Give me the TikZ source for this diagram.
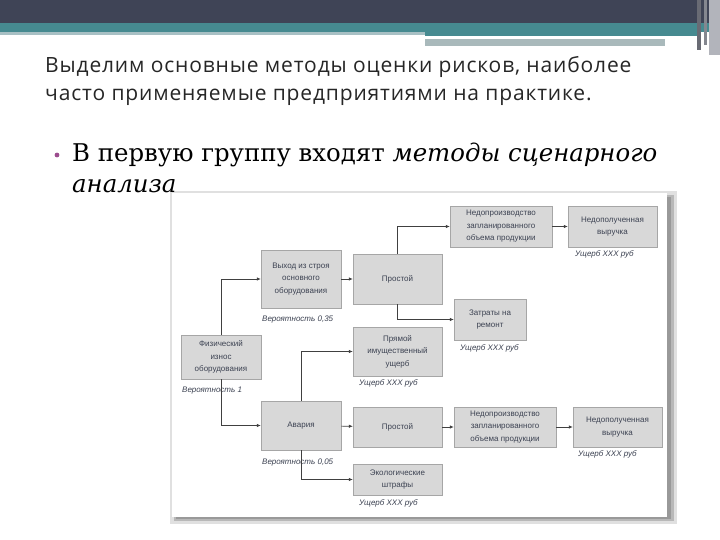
\documentclass[tikz,border=0pt]{standalone}
\usepackage{fontspec}
\setmainfont{DejaVu Serif}
\newfontfamily\titlefont[LetterSpace=4]{Open Sans}
\newfontfamily\diafont{Liberation Sans}
\usetikzlibrary{arrows.meta,shadows}
\definecolor{hdark}{HTML}{3F4456}
\definecolor{hteal}{HTML}{468A90}
\definecolor{hlight}{HTML}{A8C0C4}
\definecolor{hgray}{HTML}{A9B9BB}
\definecolor{boxfill}{HTML}{D8D8D8}
\definecolor{boxline}{HTML}{A6A6A6}
\definecolor{boxtext}{HTML}{3C4252}
\definecolor{dotpink}{HTML}{9C4C8E}
\tikzset{
  box/.style={draw=boxline,fill=boxfill,text=boxtext,align=center,inner sep=1pt,
    font=\diafont\fontsize{8}{12.5}\selectfont,
    drop shadow={shadow xshift=1pt,shadow yshift=-1pt,opacity=0.25}},
  lbl/.style={anchor=west,inner sep=0pt,text=boxtext,font=\diafont\itshape\fontsize{8}{10}\selectfont},
  arrow/.style={draw=black!75,line width=0.7pt,-{Latex[length=4pt,width=3.5pt]}}
}
\newcommand{\riskbox}[4][]{\node[box,#1] at (#2) (#3) {#4}}

\begin{document}
\begin{tikzpicture}[x=1pt,y=-1pt]
  \useasboundingbox (0,0) rectangle (720,540);
  % header
  \fill[hdark]  (0,0)      rectangle (720,23);
  \fill[hteal]  (0,23)     rectangle (720,31.7);
  \fill[hlight] (0,31.7)   rectangle (425,35);
  \fill[hteal]  (425,31.7) rectangle (697,36);
  \fill[hgray]  (425,39)   rectangle (665,46);
  \fill[black!35!hdark!70!white] (697,0) rectangle (701,50);
  \fill[black!20!hdark!60!white] (704,0) rectangle (707,45);
  \fill[hdark!40!white]          (709,0) rectangle (720,55);
  % panel
  \fill[black!12] (170,191) rectangle (677,524);
  \fill[black!28] (174,195) rectangle (674,521);
  \fill[black!40] (176,197) rectangle (671,519);
  \fill[white]    (172,193) rectangle (667,517);
  % title and bullet
  \node[anchor=base west,inner sep=0pt,text=black!85,font=\titlefont\fontsize{21}{28}\selectfont]
    (title1) at (45,73) {Выделим основные методы оценки рисков, наиболее};
  \node[anchor=base west,inner sep=0pt,text=black!85,font=\titlefont\fontsize{21}{28}\selectfont]
    (title2) at (45,101) {часто применяемые предприятиями на практике.};
  \fill[dotpink] (57,155) circle (2.4);
  \node[anchor=base west,inner sep=0pt,font=\fontsize{24.4}{30}\selectfont]
    (bullet1) at (72,162) {В первую группу входят \textit{методы сценарного}};
  \node[anchor=base west,inner sep=0pt,font=\itshape\fontsize{24.4}{30}\selectfont]
    (bullet2) at (72,193) {анализа};
  % boxes
  \riskbox[minimum width=80pt,minimum height=44pt]{221,357}{iznos}{Физический\\износ\\оборудования};
  \riskbox[minimum width=80pt,minimum height=58pt]{301,279}{vyhod}{Выход из строя\\основного\\оборудования};
  \riskbox[minimum width=89pt,minimum height=50pt]{397.5,279}{prost1}{Простой};
  \riskbox[minimum width=102pt,minimum height=41pt]{501,226.5}{nedo1}{Недопроизводство\\запланированного\\объема продукции};
  \riskbox[minimum width=89pt,minimum height=41pt]{612.5,226.5}{vyr1}{Недополученная\\выручка};
  \riskbox[minimum width=72pt,minimum height=41pt]{490,319.5}{zatr}{Затраты на\\ремонт};
  \riskbox[minimum width=89pt,minimum height=49pt]{397.5,351.5}{pryam}{Прямой\\имущественный\\ущерб};
  \riskbox[minimum width=80pt,minimum height=49pt]{301,425.5}{avaria}{Авария};
  \riskbox[minimum width=89pt,minimum height=40pt]{397.5,427}{prost2}{Простой};
  \riskbox[minimum width=102pt,minimum height=40pt]{505,427}{nedo2}{Недопроизводство\\запланированного\\объема продукции};
  \riskbox[minimum width=89pt,minimum height=40pt]{617.5,427}{vyr2}{Недополученная\\выручка};
  \riskbox[minimum width=89pt,minimum height=31pt]{397.5,479.5}{eko}{Экологические\\штрафы};
  % labels
  \node[lbl] (p-iznos)  at (182,391) {Вероятность 1};
  \node[lbl] (p-vyhod)  at (262,320) {Вероятность 0,35};
  \node[lbl] (p-avaria) at (262,463) {Вероятность 0,05};
  \node[lbl] (u-vyr1)   at (575,254) {Ущерб XXX руб};
  \node[lbl] (u-zatr)   at (460,348) {Ущерб XXX руб};
  \node[lbl] (u-pryam)  at (359,383) {Ущерб XXX руб};
  \node[lbl] (u-vyr2)   at (578,454) {Ущерб XXX руб};
  \node[lbl] (u-eko)    at (359,503) {Ущерб XXX руб};
  % connectors
  \draw[arrow]
        (iznos.north)  |- (vyhod.west);
  \draw[arrow]
        (iznos.south)  |- (avaria.west);
  \draw[arrow] (vyhod)  -- (prost1);
  \draw[arrow] (prost1.north) |- (nedo1.west);
  \draw[arrow] (prost1.south) |- (zatr.west);
  \draw[arrow] (nedo1)  -- (vyr1);
  \draw[arrow] (avaria.north) |- (pryam.west);
  \draw[arrow] (avaria) -- (prost2);
  \draw[arrow] (avaria.south) |- (eko.west);
  \draw[arrow] (prost2) -- (nedo2);
  \draw[arrow] (nedo2)  -- (vyr2);
\end{tikzpicture}
\end{document}
